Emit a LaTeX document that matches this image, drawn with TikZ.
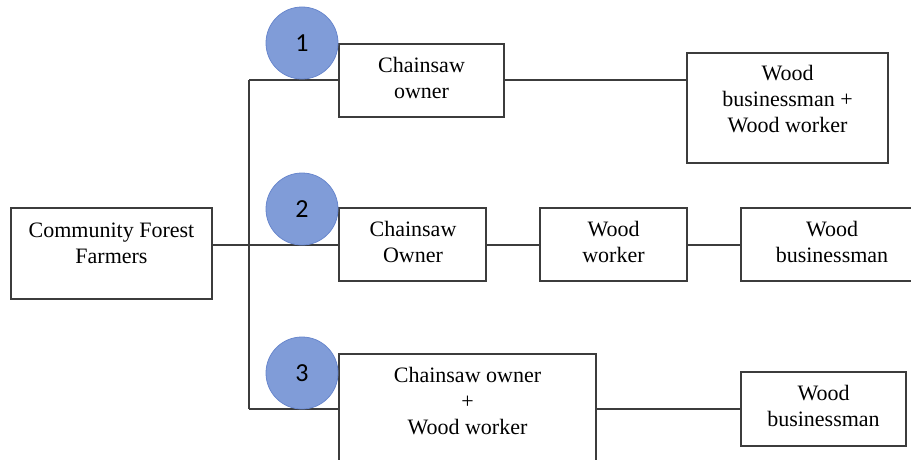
\documentclass[tikz,border=0pt]{standalone}
\usepackage{fontspec}
\setmainfont{Liberation Serif}
\newfontfamily\numfont{Carlito}
\definecolor{circfill}{RGB}{128,156,216}
\definecolor{circline}{RGB}{105,135,205}
\definecolor{linecol}{RGB}{60,60,60}
\begin{document}
\begin{tikzpicture}[x=1pt,y=-1pt,
  box/.style={draw=linecol,line width=1.4pt,inner sep=0pt,rectangle},
  lbl/.style={align=center,inner sep=0pt,font=\fontsize{22}{26}\selectfont},
  conn/.style={draw=linecol,line width=1.3pt},
  num/.style={circle,fill=circfill,draw=circline,line width=0.8pt,minimum size=72pt,inner sep=0pt,font=\numfont\fontsize{26}{30}\selectfont}]
\useasboundingbox (0,0) rectangle (911,460);
% boxes
\node[box,minimum width=201pt,minimum height=91pt] (cff) at (111.5,253.5) {};
\node[box,minimum width=165pt,minimum height=73pt] (b1) at (421.5,80.5) {};
\node[box,minimum width=201pt,minimum height=110pt] (wbw) at (787.5,108) {};
\node[box,minimum width=147pt,minimum height=73pt] (b2) at (412.5,244.5) {};
\node[box,minimum width=147pt,minimum height=73pt] (ww) at (613.5,244.5) {};
\node[box,minimum width=182pt,minimum height=73pt] (wb2) at (832,244.5) {};
\node[box,minimum width=257pt,minimum height=120pt] (b3) at (467.5,414) {};
\node[box,minimum width=165pt,minimum height=74pt] (wb3) at (823.5,409) {};
% texts
\node[lbl] (cfft) at (111.5,243) {Community Forest\\Farmers};
\node[lbl] (b1t) at (421.5,78) {Chainsaw\\owner};
\node[lbl] (wbwt) at (787.5,99) {Wood\\businessman +\\Wood worker};
\node[lbl] (b2t) at (413,242) {Chainsaw\\Owner};
\node[lbl] (wwt) at (613.5,242) {Wood\\worker};
\node[lbl] (wb2t) at (832,242) {Wood\\businessman};
\node[lbl] (b3t) at (467.5,401) {Chainsaw owner\\+\\Wood worker};
\node[lbl] (wb3t) at (823.5,406) {Wood\\businessman};
% trunk
\coordinate (t1) at (249,80);
\coordinate (t2) at (249,245);
\coordinate (t3) at (249,409);
\draw[conn] (t1) -- (t3);
\draw[conn] (t1) -- (b1.west |- t1);
\draw[conn] (cff.east |- t2) -- (b2.west |- t2);
\draw[conn] (t3) -- (b3.west |- t3);
\draw[conn] (b1.east |- t1) -- (wbw.west |- t1);
\draw[conn] (b2.east |- t2) -- (ww.west |- t2);
\draw[conn] (ww.east |- t2) -- (wb2.west |- t2);
\draw[conn] (b3.east |- t3) -- (wb3.west |- t3);
% circles
\node[num] (c1) at (302,43) {1};
\node[num] (c2) at (302,209) {2};
\node[num] (c3) at (302,373) {3};
\end{tikzpicture}
\end{document}
